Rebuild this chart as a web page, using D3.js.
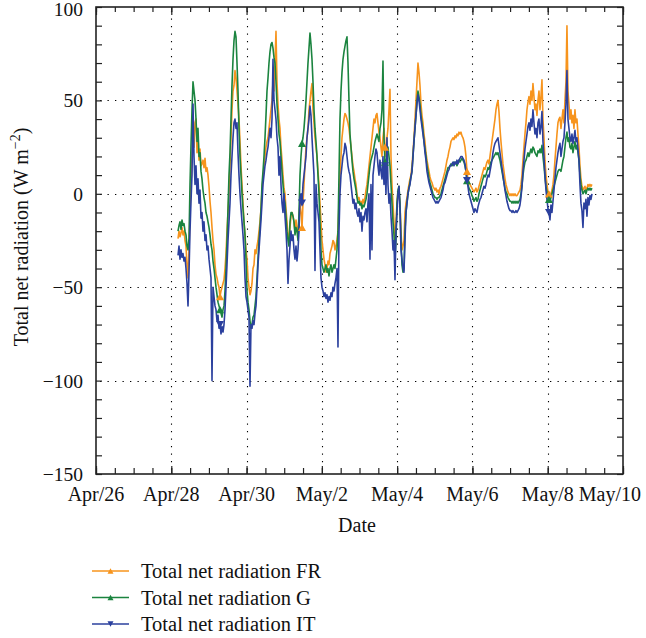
<!DOCTYPE html>
<html><head><meta charset="utf-8">
<script src="https://cdn.jsdelivr.net/npm/d3@7"></script>
<style>body{margin:0;background:#fff}svg{display:block}</style>
</head><body><svg id="c" width="646" height="638"></svg>
<script>
// ---- data ----
const dateLabels = ["Apr/26","Apr/28","Apr/30","May/2","May/4","May/6","May/8","May/10"];
const majorDayOffsets = [0,2,4,6,8,10,12,14];
const yTickValues = [-150,-100,-50,0,50,100];
const yGridValues = [-100,-50,0,50];
const seriesStart = "2012-04-28T04:17:00";
const stepMinutes = 38.25;
const fr = [
-24,-20,-23,-21,-18,-22,-20,-25,-28,-38,
-45,-30,-10,5,20,30,25,38,40,22,
30,18,24,15,16,18,14,19,12,14,
10,4,-4,-10,-18,-25,-30,-38,-43,-45,
-48,-50,-55,-52,-50,-48,-46,-40,-32,-20,
-10,0,15,30,45,55,58,66,62,55,
48,40,28,15,5,-5,-15,-22,-30,-35,
-45,-50,-54,-52,-48,-40,-38,-30,-32,-28,
-25,-20,-15,-8,2,8,15,20,25,28,
30,35,40,45,50,60,55,70,87,60,
48,40,35,25,18,10,3,0,-8,-15,
-22,-25,-18,-12,-10,-12,-15,-20,-14,-18,
-22,-15,-5,-10,-18,-5,5,15,25,30,
35,45,50,55,59,45,38,30,25,20,
12,5,-5,-15,-25,-30,-35,-38,-42,-40,
-36,-38,-32,-30,-28,-25,-26,-30,-28,-25,
-20,-5,10,20,30,35,40,43,42,40,
38,35,30,25,20,15,12,8,5,0,
-3,-2,-5,-4,-6,-3,-5,-2,2,5,
10,15,20,25,30,35,40,38,42,43,
38,33,30,25,20,30,35,25,20,30,
35,45,56,20,5,-5,-15,-26,-15,-5,
1,0,-5,-20,-30,-28,-25,-10,-5,-2,
2,5,8,10,15,22,30,40,50,60,
70,65,58,48,42,38,32,28,22,18,
15,12,9,7,6,4,3,2,3,1,
2,0,3,4,6,8,10,12,15,18,
20,23,25,28,29,30,29,31,30,32,
31,33,32,33,31,30,28,25,20,12,
8,6,5,4,3,2,1,2,3,1,
2,4,6,8,10,12,14,13,15,17,
18,16,20,24,28,32,36,40,45,48,
50,44,35,28,22,16,12,8,5,3,
1,0,-1,0,-1,0,-1,0,-1,-1,
0,1,2,5,10,18,25,32,38,45,
49,52,48,55,50,59,52,45,48,42,
50,55,45,52,61,40,30,18,10,5,
1,0,-2,0,2,5,10,18,25,32,
38,40,41,35,40,45,38,50,60,90,
55,48,40,45,38,42,35,45,38,40,
32,25,15,8,4,2,3,4,2,3,
5,4,5,4,5];
const g = [
-20,-17,-15,-19,-14,-17,-16,-20,-22,-28,
-30,-24,5,26,45,60,55,50,40,28,
35,20,22,12,8,2,-2,-5,-10,-12,
-15,-18,-22,-27,-30,-36,-40,-45,-50,-54,
-58,-60,-62,-64,-66,-62,-60,-52,-40,-25,
-8,10,22,40,58,72,82,87,84,70,
55,35,20,10,0,-8,-15,-22,-35,-52,
-58,-62,-68,-72,-70,-66,-65,-60,-55,-45,
-35,-25,-18,-8,5,12,20,30,42,55,
62,70,76,80,81,78,73,70,60,48,
40,32,28,20,12,5,-2,-5,-12,-20,
-25,-28,-15,-10,-10,-12,-15,-22,-18,-20,
-25,-10,10,20,27,30,35,42,50,60,
70,78,86,80,72,60,45,35,28,20,
10,0,-15,-30,-38,-40,-42,-40,-38,-42,
-40,-44,-40,-38,-42,-40,-38,-40,-35,-30,
-20,10,40,55,65,72,76,79,82,84,
70,50,32,25,18,12,8,5,2,-2,
-5,-4,-6,-5,-8,-6,-7,-5,-3,0,
5,10,15,18,20,22,25,28,30,32,
30,28,35,38,45,71,30,17,15,20,
25,20,15,5,-5,-15,-22,-35,-25,-5,
2,4,-5,-25,-38,-42,-40,-20,-10,-5,
0,3,6,9,12,20,28,35,42,50,
55,52,48,42,38,34,28,24,20,15,
12,8,6,4,2,0,-1,-2,-2,-3,
-2,-2,-1,0,2,4,6,8,10,12,
14,14,15,16,15,16,17,16,17,15,
17,18,17,18,19,18,17,15,12,7,
5,3,2,1,-1,-2,-4,-3,-2,-4,
-3,0,2,4,6,8,10,9,10,12,
14,13,15,17,18,19,20,21,22,21,
22,20,18,15,12,9,6,3,1,0,
-2,-3,-4,-4,-5,-4,-5,-4,-5,-4,
-5,-4,-3,0,4,10,14,17,18,20,
22,20,22,24,22,25,24,22,21,20,
23,22,24,22,26,20,15,9,4,1,
-2,-3,-4,-2,0,2,4,6,8,10,
12,13,13,12,15,18,20,25,30,33,
28,30,25,24,27,22,25,28,24,26,
22,18,10,5,2,0,1,2,0,2,
3,2,3,2,3];
const it = [
-33,-28,-35,-30,-34,-32,-36,-34,-40,-48,
-60,-42,-20,-4,10,48,20,5,15,0,
8,-5,2,-13,-10,-20,-15,-25,-22,-30,
-28,-35,-40,-45,-100,-50,-55,-60,-62,-68,
-65,-72,-70,-75,-71,-74,-70,-62,-50,-38,
-25,-15,-5,10,20,30,38,40,35,38,
22,10,0,-8,-15,-22,-30,-45,-55,-58,
-62,-66,-103,-70,-72,-68,-70,-64,-60,-50,
-38,-30,-22,-14,-5,5,10,15,18,22,
25,30,35,30,40,72,50,45,40,30,
25,10,20,5,-5,-10,0,-12,-20,-30,
-48,-35,-28,-20,-25,-22,-30,-35,-28,-36,
-30,-20,-2,0,-5,5,10,15,20,30,
35,40,47,42,30,20,10,-41,5,-5,
-10,-15,-30,-45,-50,-52,-55,-53,-56,-54,
-58,-55,-57,-53,-55,-50,-52,-48,-45,-40,
-82,-20,0,10,15,20,22,27,25,20,
15,12,10,5,0,-5,-3,-8,-5,-10,
-12,-8,-15,-10,-20,-12,-14,-10,-8,-15,
-5,0,-35,5,-30,10,15,20,24,22,
15,10,18,12,8,20,5,15,0,30,
5,-5,0,-12,-20,-30,-25,-46,-20,-10,
0,4,-8,-30,-35,-40,-42,-25,-10,-5,
0,3,5,9,12,20,28,35,42,48,
53,50,45,40,36,32,28,22,18,12,
9,6,4,2,0,-2,-3,-4,-5,-4,
-5,-4,-3,-2,0,2,5,6,8,10,
12,13,15,15,16,17,15,17,16,18,
16,18,19,20,20,19,18,16,12,7,
4,0,-2,-4,-6,-8,-10,-8,-9,-10,
-7,-5,-3,-2,0,2,4,3,5,8,
10,9,12,15,18,22,25,27,28,29,
30,26,22,18,14,10,6,2,-1,-4,
-6,-8,-9,-9,-10,-9,-10,-10,-9,-10,
-9,-8,-6,-2,4,12,18,24,28,32,
36,38,34,40,36,45,38,32,35,30,
38,40,32,36,44,28,20,10,2,-3,
-8,-10,-14,-6,-10,-4,2,8,14,18,
22,25,27,20,24,28,30,38,48,66,
40,35,30,28,32,27,30,34,28,30,
24,18,5,-5,-9,-18,-5,-8,-3,-12,
-2,-6,-1,-3,0];
const seriesNames = ["Total net radiation FR","Total net radiation G","Total net radiation IT"];
const seriesColors = ["#f7941d","#1b843f","#2b409e"];
const markerIdx = [42,124,207,289,371];

// ---- chart ----
const svg = d3.select("#c");
const FONT = "'Liberation Serif','Times New Roman','DejaVu Serif',serif";
const L = 96, R = 623, T = 7, B = 474;
const day0 = new Date(2012,3,26);
const x = d3.scaleTime().domain([day0, d3.timeDay.offset(day0,14)]).range([L,R]);
const y = d3.scaleLinear().domain([-150,100]).range([B,T]);

const start = new Date(seriesStart);
const times = fr.map((_,i) => new Date(start.getTime() + i*stepMinutes*60000));
const allSeries = [fr,g,it];

const majorDates = majorDayOffsets.map(d => d3.timeDay.offset(day0,d));
const minorDates = d3.range(0,29).map(h => d3.timeHour.offset(day0,h*12));
const minorY = d3.range(-150,101,10);

// grid
const grid = svg.append("g").attr("stroke","#000").attr("stroke-width",1.1).attr("stroke-dasharray","1.3,6.2");
grid.selectAll("line.v").data(majorDates.slice(1,-1)).join("line")
  .attr("x1",d=>Math.round(x(d))+0.5).attr("x2",d=>Math.round(x(d))+0.5).attr("y1",T+4).attr("y2",B);
grid.selectAll("line.h").data(yGridValues).join("line").attr("class","h")
  .attr("y1",d=>Math.round(y(d))+0.5).attr("y2",d=>Math.round(y(d))+0.5).attr("x1",L+4).attr("x2",R);

// series
svg.append("clipPath").attr("id","pc").append("rect").attr("x",L).attr("y",T).attr("width",R-L).attr("height",B-T);
const line = d3.line().x((d,i)=>x(times[i])).y(d=>y(d));
const plot = svg.append("g").attr("clip-path","url(#pc)");
allSeries.forEach((s,k)=>{
  plot.append("path").attr("d",line(s)).attr("fill","none")
    .attr("stroke",seriesColors[k]).attr("stroke-width",1.6).attr("stroke-linejoin","round");
});
function tri(cx,cy,sz,down){
  const h = sz*0.9;
  return down ? `M${cx-sz/2},${cy-h/2}L${cx+sz/2},${cy-h/2}L${cx},${cy+h/2}Z`
              : `M${cx-sz/2},${cy+h/2}L${cx+sz/2},${cy+h/2}L${cx},${cy-h/2}Z`;
}
allSeries.forEach((s,k)=>{
  plot.selectAll(null).data(markerIdx).join("path")
    .attr("d",i=>tri(x(times[i]),y(s[i]),8,k===2)).attr("fill",seriesColors[k]);
});

// axes (ticks inward, all four sides)
function axisTicks(axis, tr){
  const gg = svg.append("g").attr("transform",tr).call(axis);
  gg.select(".domain").remove();
  gg.selectAll("text").remove();
  gg.selectAll("line").attr("stroke","#222").attr("stroke-width",1.2);
}
axisTicks(d3.axisBottom(x).tickValues(minorDates).tickSize(-6), `translate(0,${B})`);
axisTicks(d3.axisTop(x).tickValues(minorDates).tickSize(-5), `translate(0,${T})`);
axisTicks(d3.axisBottom(x).tickValues(majorDates).tickSize(-8), `translate(0,${B})`);
axisTicks(d3.axisTop(x).tickValues(majorDates).tickSize(-8), `translate(0,${T})`);
axisTicks(d3.axisLeft(y).tickValues(minorY).tickSize(-6), `translate(${L},0)`);
axisTicks(d3.axisRight(y).tickValues(minorY).tickSize(-6), `translate(${R},0)`);

// frame
svg.append("rect").attr("x",L).attr("y",T).attr("width",R-L).attr("height",B-T)
  .attr("fill","none").attr("stroke","#222").attr("stroke-width",1.6);

// tick labels
svg.selectAll("text.yl").data(yTickValues).join("text").attr("class","yl")
  .attr("x",83).attr("y",d=> d===100 ? y(d)+8.5 : y(d)+7).attr("text-anchor","end")
  .attr("font-family",FONT).attr("font-size",19.5).attr("fill","#111")
  .text(d=> d<0 ? "\u2212"+Math.abs(d) : String(d));
svg.selectAll("text.xl").data(majorDates).join("text").attr("class","xl")
  .attr("x",(d,i)=> i===majorDates.length-1 ? 641 : x(d))
  .attr("y",501).attr("text-anchor",(d,i)=> i===majorDates.length-1 ? "end" : "middle")
  .attr("font-family",FONT).attr("font-size",20).attr("fill","#111")
  .text((d,i)=>dateLabels[i]);

// axis titles
svg.append("text").attr("x",357).attr("y",532).attr("text-anchor","middle")
  .attr("font-family",FONT).attr("font-size",20).attr("fill","#111").text("Date");
const yt = svg.append("text").attr("transform","translate(28,237) rotate(-90)").attr("text-anchor","middle")
  .attr("font-family",FONT).attr("font-size",20).attr("fill","#111");
yt.append("tspan").text("Total net radiation (W m");
yt.append("tspan").attr("dy",-8).attr("font-size",14).text("\u22122");
yt.append("tspan").attr("dy",8).text(")");

// legend
const lg = svg.append("g");
seriesNames.forEach((name,k)=>{
  const cy = 571 + k*26.5;
  lg.append("line").attr("x1",92).attr("x2",129).attr("y1",cy).attr("y2",cy)
    .attr("stroke",seriesColors[k]).attr("stroke-width",1.5);
  lg.append("path").attr("d",tri(110.5,cy,6,k===2)).attr("fill",seriesColors[k]);
  lg.append("text").attr("x",141).attr("y",cy+7).attr("font-family",FONT).attr("font-size",20.5)
    .attr("fill","#111").text(name);
});
</script></body></html>
